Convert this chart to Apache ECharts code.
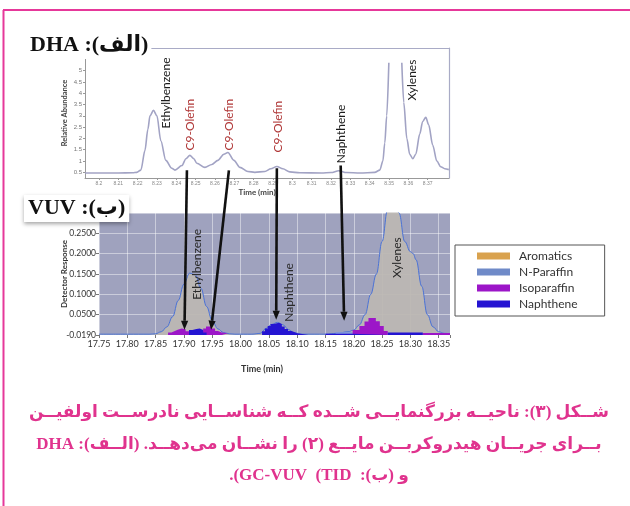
<!DOCTYPE html>
<html>
<head>
<meta charset="utf-8">
<script src="https://cdn.jsdelivr.net/npm/echarts@6/dist/echarts.min.js"></script>
<style>
  html, body { margin: 0; padding: 0; background: #fff; }
  #chart { width: 630px; height: 506px; }
</style>
</head>
<body>
<div id="chart"></div>
<script>
// ---- (الف) DHA chromatogram ----
var dhaTime = [8.1928, 8.20, 8.21, 8.2175, 8.2196, 8.2217, 8.2238, 8.2253, 8.2264, 8.2282, 8.23, 8.232,
  8.2346, 8.2377, 8.2393, 8.2429, 8.245, 8.247, 8.2491, 8.2506, 8.2548, 8.2584, 8.2615, 8.2646, 8.2667,
  8.2698, 8.2729, 8.277, 8.2806, 8.2858, 8.2889, 8.292, 8.2951, 8.2987, 8.3039, 8.315, 8.32, 8.324,
  8.328, 8.335, 8.3426, 8.3452, 8.3468, 8.3478, 8.3488, 8.3499, 8.353, 8.3566, 8.3576, 8.3592, 8.3607,
  8.3623, 8.3638, 8.3659, 8.3674, 8.369, 8.3705, 8.3726, 8.3747, 8.3767, 8.3788, 8.3809];
var dhaAbundance = [0.47, 0.47, 0.47, 0.48, 0.5, 0.6, 1.47, 2.4, 3.0, 3.24, 3.0, 1.9,
  1.03, 0.68, 0.6, 0.8, 1.1, 1.25, 1.1, 0.9, 0.72, 0.85, 1.03, 1.3, 1.38,
  1.03, 0.72, 0.54, 0.5, 0.54, 0.66, 0.76, 0.66, 0.52, 0.48, 0.47, 0.49, 0.57,
  0.49, 0.47, 0.5, 0.6, 1.0, 1.8, 3.0, 5.35, null, 5.35, 3.6, 2.0, 1.3,
  1.1, 1.3, 2.2, 2.75, 2.93, 2.6, 1.7, 1.0, 0.75, 0.66, 0.62];
var dhaYTicks = [0.5, 1, 1.5, 2, 2.5, 3, 3.5, 4, 4.5, 5];
var dhaXTicks = [8.2, 8.21, 8.22, 8.23, 8.24, 8.25, 8.26, 8.27, 8.28, 8.29,
  8.3, 8.31, 8.32, 8.33, 8.34, 8.35, 8.36, 8.37];
var dhaPeakNames = ['Ethylbenzene', 'C9-Olefin', 'C9-Olefin', 'C9-Olefin', 'Naphthene', 'Xylenes'];
var dhaPeakTime = [8.2346, 8.247, 8.2672, 8.2925, 8.325, 8.3618];
var dhaPeakLevel = [2.44, 1.47, 1.47, 1.38, 0.9, 3.68];

// ---- (ب) VUV chromatogram ----
var vuvTime = [17.75, 17.80, 17.84, 17.85, 17.86, 17.87, 17.88, 17.89, 17.90, 17.91, 17.92, 17.93, 17.94,
  17.95, 17.96, 17.97, 17.98, 17.99, 18.02, 18.035, 18.045, 18.055, 18.065, 18.075, 18.085, 18.095,
  18.11, 18.15, 18.17, 18.19, 18.20, 18.21, 18.22, 18.23, 18.24, 18.25, 18.26, 18.27, 18.28, 18.29,
  18.30, 18.305, 18.31, 18.32, 18.33, 18.34, 18.35, 18.36, 18.37];
var vuvResponse = [0.002, 0.002, 0.002, 0.003, 0.008, 0.02, 0.045, 0.085, 0.125, 0.152, 0.148, 0.115, 0.07,
  0.035, 0.015, 0.006, 0.003, 0.002, 0.002, 0.004, 0.016, 0.026, 0.031, 0.025, 0.013, 0.005,
  0.002, 0.002, 0.004, 0.008, 0.012, 0.025, 0.05, 0.10, 0.15, 0.23, 0.31, 0.40, 0.30, 0.23,
  0.205, 0.20, 0.185, 0.12, 0.05, 0.02, 0.008, 0.004, 0.003];
// stepped class bins: left edge time, height (null = gap)
var isoTime = [17.872, 17.878, 17.884, 17.889, 17.896, 17.903, 17.909, 17.928, 17.934, 17.939, 17.949,
  17.955, 17.96, 17.967, 17.978, 17.98,
  18.198, 18.21, 18.219, 18.226, 18.239, 18.246, 18.253, 18.26, 18.262,
  18.322, 18.37];
var isoValue = [0.006, 0.010, 0.013, 0.016, 0.014, 0.009, 0.004, 0.010, 0.016, 0.021, 0.016,
  0.010, 0.006, 0.004, 0, null,
  0.012, 0.022, 0.033, 0.042, 0.034, 0.022, 0.010, 0, null,
  0.005, 0];
var naphTime = [17.909, 17.915, 17.922, 17.928, 17.934, 17.94, 17.945,
  18.038, 18.043, 18.048, 18.053, 18.058, 18.068, 18.073, 18.078, 18.084, 18.09, 18.096, 18.10, 18.12,
  18.150, 18.198, 18.26, 18.322];
var naphValue = [0.012, 0.015, 0.016, 0.012, 0.006, 0, null,
  0.009, 0.016, 0.022, 0.027, 0.030, 0.027, 0.021, 0.015, 0.010, 0.007, 0.004, 0, null,
  0.003, 0, 0.006, 0];
var nparTime = [18.168, 18.198];
var nparValue = [0.007, 0];
var vuvPeakNames = ['Ethylbenzene', 'Naphthene', 'Xylenes'];
var vuvPeakTime = [17.924, 18.086, 18.2773];
var vuvPeakLevel = [0.0865, 0.0326, 0.14];

// arrows: DHA peak (time, abundance) -> VUV point (time, response)
var arrowFrom = [[8.2455, 0.59], [8.2672, 0.59], [8.292, 0.68], [8.325, 0.8]];
var arrowTo = [[17.901, 0.013], [17.948, 0.013], [18.063, 0.0375], [18.183, 0.035]];

var classNames = ['Aromatics', 'N-Paraffin', 'Isoparaffin', 'Naphthene'];
var classColors = ['#d9a24e', '#6f8ac8', '#9c16c8', '#2414d2'];

var LRI = '\u2066', PDI = '\u2069';
var captionLines = [
  'شــکل (۳): ناحیــه بزرگنمایــی شــده کــه شناســایی نادرســت اولفیــن',
  'بــرای جریــان هیدروکربــن مایــع (۲) را نشــان می‌دهــد. (الــف): DHA',
  'و (ب):  ' + LRI + 'GC-VUV  (TID' + PDI + ').'
];

var RLE = '\u202B', PDF = '\u202C';
var serif = "'Liberation Serif', 'DejaVu Sans', serif";
var sans = "Lato, 'Liberation Sans', sans-serif";

function zip(xs, ys) {
  return xs.map(function (x, i) { return [x, ys[i] === null ? '-' : ys[i]]; });
}
function stepSeries(name, color, xs, ys) {
  return {
    name: name, type: 'line', xAxisIndex: 2, yAxisIndex: 2, step: 'end',
    data: zip(xs, ys), showSymbol: false, symbol: 'none', color: color,
    lineStyle: { width: 0 }, areaStyle: { color: color, opacity: 1 }, z: 4
  };
}

var chart = echarts.init(document.getElementById('chart'));
chart.setOption({
  animation: false,
  title: [
    { text: RLE + '(الف): DHA' + PDF, left: 27, top: 32, padding: [2, 3, 3, 3], backgroundColor: '#fff',
      textStyle: { fontFamily: serif, fontSize: 22, fontWeight: 'bold', color: '#111' }, z: 10 },
    { text: RLE + '(ب): VUV' + PDF, left: 24, top: 195, padding: [2, 4, 3, 4], backgroundColor: '#fff',
      shadowBlur: 4, shadowColor: 'rgba(0,0,0,0.35)', shadowOffsetY: 2,
      textStyle: { fontFamily: serif, fontSize: 22, fontWeight: 'bold', color: '#111' }, z: 10 }
  ],
  legend: {
    data: classNames.map(function (n, i) {
      return { name: n, icon: 'rect', itemStyle: { color: classColors[i], borderWidth: 0 } };
    }),
    orient: 'vertical', left: 455, top: 245, itemWidth: 33, itemHeight: 7, itemGap: 2,
    padding: [4, 27, 5, 22], borderColor: '#555', borderWidth: 1, backgroundColor: '#fff',
    textStyle: { fontFamily: sans, fontSize: 12, color: '#333', lineHeight: 14, padding: [0, 0, 0, 4] }
  },
  grid: [
    { left: 85, top: 48, width: 364, height: 130 },
    { left: 99, top: 213, width: 351, height: 122, show: true, backgroundColor: '#9fa2be', borderWidth: 0 }
  ],
  xAxis: [
    { type: 'value', gridIndex: 0, min: 8.1928, max: 8.381,
      name: 'Time (min)', nameLocation: 'middle', nameGap: 10, nameMoveOverlap: false,
      nameTextStyle: { fontFamily: sans, fontSize: 8, fontWeight: 'bold', color: '#444', padding: [0, 20, 0, 0] },
      axisLine: { lineStyle: { color: '#999' } },
      axisTick: { length: 2, lineStyle: { color: '#999' }, customValues: dhaXTicks },
      axisLabel: { fontSize: 5, color: '#888', margin: 3, customValues: dhaXTicks,
        formatter: function (v) { return String(+v.toFixed(2)); } },
      splitLine: { show: false } },
    { type: 'value', gridIndex: 0, position: 'top', min: 8.1928, max: 8.381,
      axisLine: { lineStyle: { color: '#a9abc6', width: 1.2 } },
      axisTick: { show: false }, axisLabel: { show: false }, splitLine: { show: false } },
    { type: 'value', gridIndex: 1, min: 17.75, max: 18.37, interval: 0.05,
      name: 'Time (min)', nameLocation: 'middle', nameGap: 30, nameMoveOverlap: false,
      nameTextStyle: { fontFamily: sans, fontSize: 9, fontWeight: 'bold', color: '#333', padding: [0, 25, 0, 0] },
      axisLine: { show: false },
      axisTick: { length: 3, lineStyle: { color: '#777' } },
      axisLabel: { fontFamily: sans, fontSize: 9, color: '#333', margin: 5,
        formatter: function (v) { return v > 18.355 ? '' : v.toFixed(2); } },
      splitLine: { show: true, lineStyle: { color: 'rgba(255,255,255,0.45)', width: 1 } } }
  ],
  yAxis: [
    { type: 'value', gridIndex: 0, min: 0.25, max: 6, interval: 0.25,
      name: 'Relative Abundance', nameLocation: 'middle', nameGap: 16, nameMoveOverlap: false,
      nameTextStyle: { fontFamily: sans, fontSize: 7.5, fontWeight: 'bold', color: '#444' },
      axisLine: { show: true, lineStyle: { color: '#999' } },
      axisTick: { show: true, length: 2, lineStyle: { color: '#999' }, customValues: dhaYTicks },
      axisLabel: { fontSize: 6, color: '#777', margin: 3, customValues: dhaYTicks,
        formatter: function (v) { return String(v); } },
      splitLine: { show: false } },
    { type: 'value', gridIndex: 0, position: 'right', min: 0.25, max: 6,
      axisLine: { show: true, lineStyle: { color: '#a9abc6', width: 1.2 } },
      axisTick: { show: false }, axisLabel: { show: false }, splitLine: { show: false } },
    { type: 'value', gridIndex: 1, min: 0, max: 0.30, interval: 0.05,
      name: 'Detector Response', nameLocation: 'middle', nameGap: 31, nameMoveOverlap: false,
      nameTextStyle: { fontFamily: sans, fontSize: 8, fontWeight: 'bold', color: '#333' },
      axisLine: { show: false },
      axisTick: { show: true, length: 3, lineStyle: { color: '#777' } },
      axisLabel: { fontFamily: sans, fontSize: 8.5, color: '#333', margin: 3,
        formatter: function (v) { return v < 1e-9 ? '-0.0190' : (v > 0.28 ? '' : v.toFixed(4)); } },
      splitLine: { show: true, lineStyle: { color: 'rgba(255,255,255,0.45)', width: 1 } } }
  ],
  series: [
    { name: 'DHA', type: 'line', xAxisIndex: 0, yAxisIndex: 0, data: zip(dhaTime, dhaAbundance),
      smooth: 0.3, smoothMonotone: 'x', showSymbol: false, symbol: 'none',
      lineStyle: { color: '#a2a3c4', width: 1.6 } },
    { name: 'Aromatics', type: 'line', xAxisIndex: 2, yAxisIndex: 2, data: zip(vuvTime, vuvResponse),
      smooth: 0.4, smoothMonotone: 'x', showSymbol: false, symbol: 'none', color: classColors[0],
      lineStyle: { color: '#4a72d6', width: 1 }, areaStyle: { color: '#bcb7b3', opacity: 0.95 }, z: 3 },
    stepSeries('N-Paraffin', '#8297dc', nparTime, nparValue),
    stepSeries('Isoparaffin', classColors[2], isoTime, isoValue),
    stepSeries('Naphthene', classColors[3], naphTime, naphValue)
  ]
});

// annotations computed from data coordinates
function px(axes, pt) {
  return chart.convertToPixel(axes, pt);
}
var topAxes = { xAxisIndex: 0, yAxisIndex: 0 };
var botAxes = { xAxisIndex: 2, yAxisIndex: 2 };
var graphics = [];

function vLabel(p, text, color, size) {
  graphics.push({ type: 'text', x: p[0], y: p[1], rotation: Math.PI / 2, z: 20,
    style: { text: text, fill: color, font: size + 'px ' + sans, textAlign: 'left', textVerticalAlign: 'middle' } });
}
dhaPeakNames.forEach(function (n, i) {
  vLabel(px(topAxes, [dhaPeakTime[i], dhaPeakLevel[i]]), n, n === 'C9-Olefin' ? '#b03838' : '#1c1c1c', 12);
});
vuvPeakNames.forEach(function (n, i) {
  vLabel(px(botAxes, [vuvPeakTime[i], vuvPeakLevel[i]]), n, '#2a2a2a', 12);
});

arrowFrom.forEach(function (a, i) {
  var s = px(topAxes, a), e = px(botAxes, arrowTo[i]);
  var dx = e[0] - s[0], dy = e[1] - s[1], len = Math.sqrt(dx * dx + dy * dy);
  var ux = dx / len, uy = dy / len, hl = 9, hw = 3.6;
  var bx = e[0] - ux * hl, by = e[1] - uy * hl;
  graphics.push({ type: 'line', z: 30, shape: { x1: s[0], y1: s[1], x2: bx, y2: by },
    style: { stroke: '#111', lineWidth: 2.6 } });
  graphics.push({ type: 'polygon', z: 30,
    shape: { points: [[e[0], e[1]], [bx - uy * hw, by + ux * hw], [bx + uy * hw, by - ux * hw]] },
    style: { fill: '#111' } });
});

// pink frame
graphics.push({ type: 'line', z: 40, shape: { x1: 3, y1: 10, x2: 630, y2: 10 }, style: { stroke: '#e6389a', lineWidth: 2 } });
graphics.push({ type: 'line', z: 40, shape: { x1: 3.5, y1: 10, x2: 3.5, y2: 506 }, style: { stroke: '#e6389a', lineWidth: 2 } });

// caption
var capY = [413, 445, 476];
captionLines.forEach(function (t, i) {
  graphics.push({ type: 'text', x: 319, y: capY[i], z: 40,
    style: { text: RLE + t + PDF, fill: '#e0338e', font: 'bold 17px ' + serif, textAlign: 'center', textVerticalAlign: 'middle' } });
});

chart.setOption({ graphic: graphics });
</script>
</body>
</html>
